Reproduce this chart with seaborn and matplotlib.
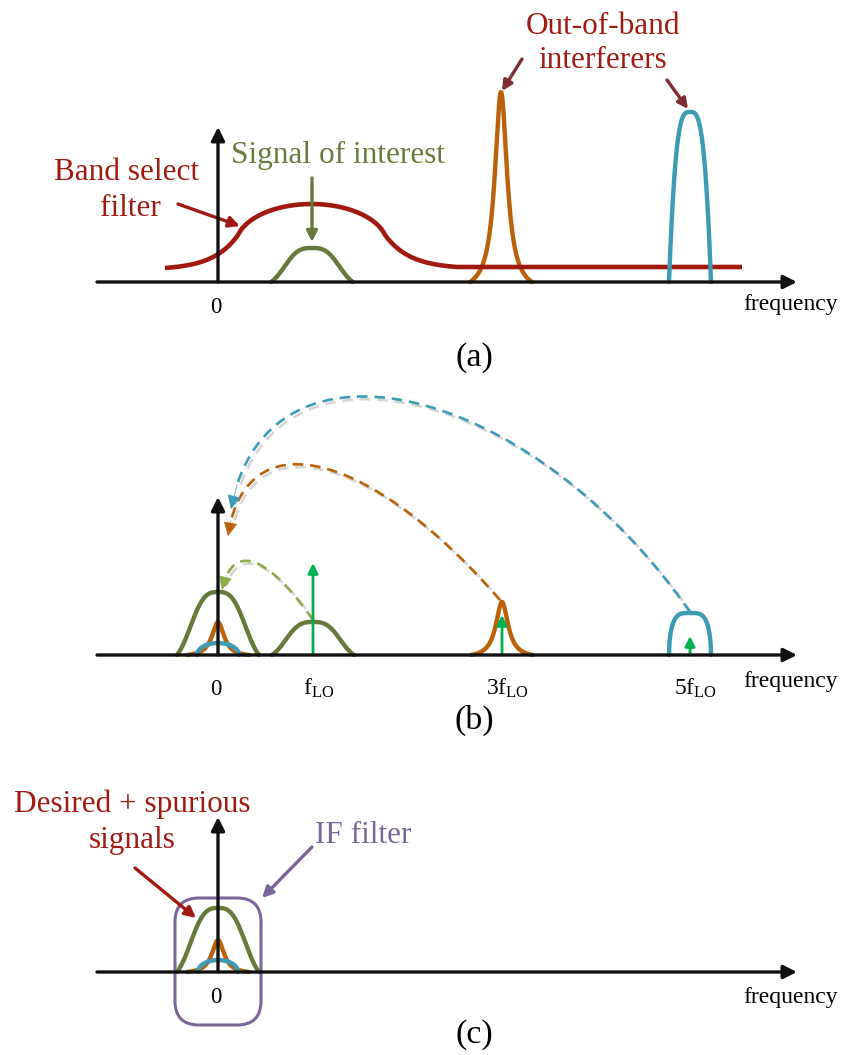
import numpy as np
import pandas as pd
import matplotlib
matplotlib.use("Agg")
import matplotlib.pyplot as plt
import matplotlib.patheffects as pe
from matplotlib.patches import FancyBboxPatch
import seaborn as sns

sns.set_theme(style="white")
plt.rcParams["font.family"] = ["Liberation Serif", "DejaVu Serif"]
plt.rcParams["mathtext.fontset"] = "custom"
plt.rcParams["mathtext.rm"] = "Liberation Serif"
plt.rcParams["mathtext.it"] = "Liberation Serif:italic"

# ---------------- colours ----------------
RED = "#A01A12"
GREEN = "#677A3C"
ORANGE = "#B9620A"
BLUE = "#3D9BB4"
LO_GREEN = "#00B050"
LIGHT_GREEN = "#8FAA4B"
PURPLE = "#7A6699"
BROWN = "#7E2E2E"

# ---------------- panel geometry (pixel space) ----------------
panel_axis_y = [282, 655, 972]
panel_yaxis_top = [127, 497, 817]
panel_labels = ["(a)", "(b)", "(c)"]
panel_label_base = [366, 729, 1043]
freq_label_base = [310, 687, 1003]
zero_label_base = [313, 695, 1003]
axis_x0, axis_x1, yaxis_x = 97, 797, 218

# ---------------- spectral components ----------------
sig_panel = [0, 0, 0, 1, 1, 1, 1, 1, 1, 2, 2, 2]
sig_center = [312, 501, 690, 218, 218, 218, 313, 502, 690, 218, 218, 218]
sig_height = [34, 190, 170, 63, 33, 12, 33, 53, 42, 64, 32, 12]
sig_halfw = [41, 31, 21, 41, 31, 21, 41, 31, 21, 41, 31, 20]
sig_shape = ["bell", "peak", "dome", "bell", "peak", "arch", "bell", "peak", "arch4",
             "bell", "peak", "arch"]
sig_color = [GREEN, ORANGE, BLUE, GREEN, ORANGE, BLUE, GREEN, ORANGE, BLUE,
             GREEN, ORANGE, BLUE]

# LO tones in panel (b)
lo_x = [313, 502, 690]
lo_height = [92, 40, 19]
lo_labels = ["f$_{\\mathrm{LO}}$", "3f$_{\\mathrm{LO}}$", "5f$_{\\mathrm{LO}}$"]

# band select filter (panel a): tail/dome parameters
flt_x = [165, 238, 385, 457, 742]   # left end, left kink, right kink, tail end, right end
flt_h = [14, 47, 78, 15]            # left level, kink level, top level, floor level

# mixing arcs in panel (b): start, ctrl1, ctrl2, end
arc_colors = [LIGHT_GREEN, ORANGE, BLUE]
arc_pts = [
    [(313, 620), (275, 565), (234, 535), (222, 590)],
    [(500, 600), (370, 450), (245, 418), (228, 536)],
    [(690, 612), (530, 382), (266, 318), (231, 509)],
]


def shape(u, kind):
    u = np.abs(u)
    if kind == "bell":
        a = 1.3
        e1 = np.exp(-a ** 3)
        return (np.exp(-(a * u) ** 3) - e1) / (1 - e1)
    if kind == "peak":
        g = 0.24
        l1 = 1 / (1 + (1 / g) ** 2)
        return (1 / (1 + (u / g) ** 2) - l1) / (1 - l1)
    if kind == "dome":
        return 1 - u ** 3.3
    if kind == "arch4":
        return np.clip(1 - u ** 4, 0, None) ** 0.5
    if kind == "arch":
        return np.clip(1 - u ** 2, 0, None) ** 0.5
    return 1 - u ** 2


W, H = 844, 1055
fig = plt.figure(figsize=(W / 100, H / 100), dpi=100)
ax = fig.add_axes([0, 0, 1, 1])
ax.set_xlim(0, W)
ax.set_ylim(H, 0)
ax.axis("off")

LW = 3.0
serif = ["Liberation Serif", "DejaVu Serif"]


def arrow(p0, p1, color, lw=2.2, ms=18, z=5):
    ax.annotate("", xy=p1, xytext=p0,
                arrowprops=dict(arrowstyle="-|>", color=color, lw=lw,
                                mutation_scale=ms, shrinkA=0, shrinkB=0),
                zorder=z)


# ---------- band select filter ----------
base = panel_axis_y[0]
x0, xk1, xk2, xt, xe = flt_x
hl, hk, ht, hf = flt_h
k = 0.04
xs1 = np.linspace(x0, xk1, 80)
h1 = hl + (hk - hl) * (np.exp(k * (xs1 - x0)) - 1) / (np.exp(k * (xk1 - x0)) - 1)
xs2 = np.linspace(xk1, xk2, 160)
uc = (xs2 - (xk1 + xk2) / 2) / ((xk2 - xk1) / 2)
s1 = np.sqrt(1 - 0.97 ** 2)
h2 = hk + (ht - hk) * (np.sqrt(1 - (0.97 * uc) ** 2) - s1) / (1 - s1)
xs3 = np.linspace(xk2, xt, 80)
h3 = hf + (hk - hf) * (np.exp(-k * (xs3 - xk2)) - np.exp(-k * (xt - xk2))) / (1 - np.exp(-k * (xt - xk2)))
xs4 = np.array([xt, xe])
h4 = np.array([hf, hf])
fx = np.concatenate([xs1, xs2, xs3, xs4])
fy = base - np.concatenate([h1, h2, h3, h4])

# ---------- spectral curves ----------
for p, c, h, hw, kind, col in zip(sig_panel, sig_center, sig_height, sig_halfw, sig_shape, sig_color):
    xx = np.linspace(c - hw, c + hw, 300)
    yy = panel_axis_y[p] - h * shape((xx - c) / hw, kind)
    df = pd.DataFrame({"x": xx, "y": yy})
    if p == 0 and kind == "dome":
        # filter is drawn beneath the blue interferer
        ax.plot(fx, fy, color=RED, lw=LW * 1.1, solid_capstyle="butt", zorder=3)
    sns.lineplot(data=df, x="x", y="y", ax=ax, color=col, lw=LW * 1.05,
                 sort=False, estimator=None, zorder=4 if kind != "peak" or p else 2.5)

# ---------- axes ----------
for p in range(3):
    ya = panel_axis_y[p]
    arrow((axis_x0, ya), (axis_x1, ya), "#111111", lw=2.4, ms=20, z=6)
    arrow((yaxis_x, ya), (yaxis_x, panel_yaxis_top[p]), "#111111", lw=2.4, ms=20, z=6)
    ax.text(yaxis_x - 2, zero_label_base[p], "0", fontsize=16.5, ha="center",
            va="baseline", color="black", family=serif)
    ax.text(743, freq_label_base[p], "frequency", fontsize=17, ha="left",
            va="baseline", color="black", family=serif)
    ax.text(474, panel_label_base[p], panel_labels[p], fontsize=24.5, ha="center",
            va="baseline", color="black", family=serif)

# ---------- panel (a) annotations ----------
ax.text(127, 180, "Band select", fontsize=22.5, color=RED, ha="center", va="baseline", family=serif)
ax.text(130, 216, "filter", fontsize=22.5, color=RED, ha="center", va="baseline", family=serif)
arrow((178, 204), (240, 226), RED, lw=2.4, ms=16)
ax.text(338, 163, "Signal of interest", fontsize=22.5, color=GREEN, ha="center", va="baseline", family=serif)
arrow((312, 178), (312, 242), GREEN, lw=2.4, ms=16)
ax.text(603, 34, "Out-of-band", fontsize=22.5, color=RED, ha="center", va="baseline", family=serif)
ax.text(603, 68, "interferers", fontsize=22.5, color=RED, ha="center", va="baseline", family=serif)
arrow((522, 59), (502, 91), BROWN, lw=2.4, ms=15)
arrow((667, 80), (688, 109), BROWN, lw=2.4, ms=15)

# ---------- panel (b) ----------
for x, h, lab in zip(lo_x, lo_height, lo_labels):
    arrow((x, panel_axis_y[1]), (x, panel_axis_y[1] - h), LO_GREEN, lw=2.0, ms=15, z=5)
    ax.text(x + 6, 695, lab, fontsize=17, ha="center", va="baseline", color="black", family=serif)


def bezier(pts, n=200):
    P = np.array(pts, dtype=float)
    t = np.linspace(0, 1, n)[:, None]
    return ((1 - t) ** 3) * P[0] + 3 * t * (1 - t) ** 2 * P[1] + 3 * t ** 2 * (1 - t) * P[2] + t ** 3 * P[3]


shadow = [pe.SimpleLineShadow(offset=(2, -2), shadow_color="#888888", alpha=0.35), pe.Normal()]
for col, pts in zip(arc_colors, arc_pts):
    B = bezier(pts)
    arc_df = pd.DataFrame({"x": B[:-8, 0], "y": B[:-8, 1]})
    sns.lineplot(data=arc_df, x="x", y="y", ax=ax, color=col, lw=1.9, sort=False,
                 estimator=None, linestyle=(0, (4, 2.6)), path_effects=shadow, zorder=3)
    arrow(tuple(B[-10]), tuple(B[-1]), col, lw=0.5, ms=22, z=4)

# ---------- panel (c) ----------
box = FancyBboxPatch((175, 898), 86, 127, boxstyle="round,pad=0,rounding_size=24",
                     fill=False, ec=PURPLE, lw=2.2, zorder=5)
ax.add_patch(box)
ax.text(132, 812, "Desired + spurious", fontsize=22.5, color=RED, ha="center", va="baseline", family=serif)
ax.text(132, 848, "signals", fontsize=22.5, color=RED, ha="center", va="baseline", family=serif)
arrow((135, 868), (196, 918), RED, lw=2.4, ms=16)
ax.text(315, 843, "IF filter", fontsize=22.5, color=PURPLE, ha="left", va="baseline", family=serif)
arrow((312, 847), (262, 898), PURPLE, lw=2.4, ms=16)

if ax.get_legend() is not None:
    ax.get_legend().remove()
fig.savefig("out.png", dpi=100)
